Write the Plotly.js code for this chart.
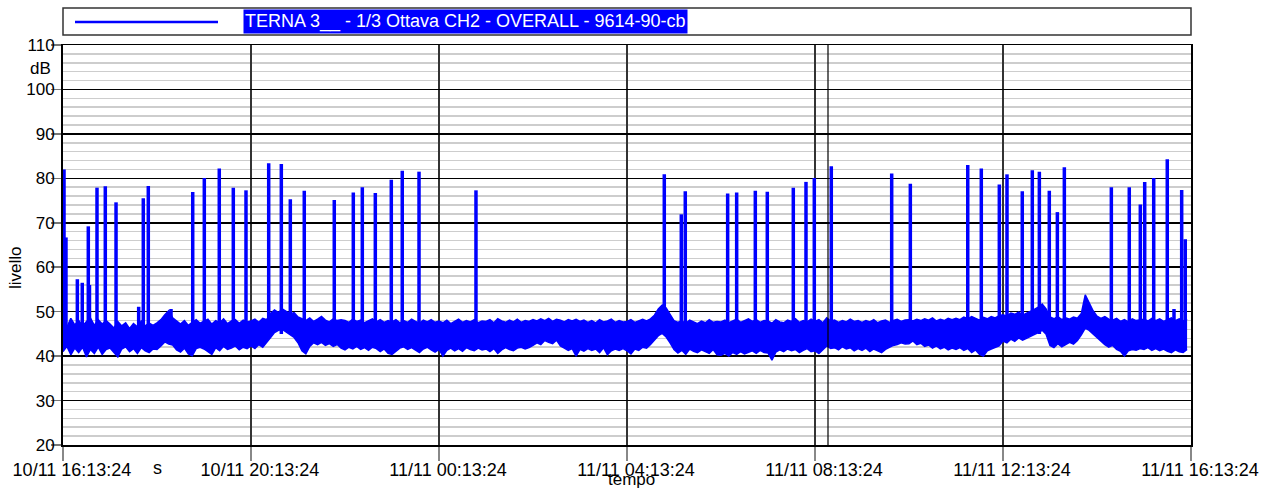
<!DOCTYPE html>
<html>
<head>
<meta charset="utf-8">
<script src="https://cdn.plot.ly/plotly-3.0.1.min.js"></script>
<style>html,body{margin:0;padding:0;background:#fff;}#chart{width:1262px;height:490px;}</style>
</head>
<body>
<div id="chart"></div>
<script>
// ---- data ----
const seriesName = "TERNA 3__ - 1/3 Ottava CH2 - OVERALL - 9614-90-cb";
const stepMinutes = 5; // background envelope sampled every 5 minutes
// upper envelope of the background level (dB), one row per hour
const baseHigh = [
  48, 46.5, 48.5, 47, 48, 46.8, 47.8, 48.6, 46.9, 48.2, 47.2, 48,
  47.2, 46.3, 47.8, 46.8, 47.5, 46.2, 47.3, 46.6, 47.9, 46.8, 47.4, 46.9,
  47.5, 48.2, 49.3, 50.2, 48.6, 47.8, 47.2, 48, 46.9, 47.6, 48.2, 47.4,
  47.8, 48.3, 47.2, 48, 47.5, 48.4, 47.3, 47.9, 48.2, 47.4, 48.1, 47.7,
  47.9, 48.3, 47.6, 48.5, 48.2, 49.6, 50.4, 49.8, 50.6, 50.1, 49.5, 49.8,
  48.8, 48.4, 48, 48.6, 47.8, 48.3, 48.9, 48.1, 47.7, 48.4, 48, 48.2,
  48, 47.6, 48.3, 47.8, 48.1, 47.5, 47.9, 48.4, 47.7, 48.2, 47.6, 48,
  47.7, 48.2, 47.5, 48, 47.6, 48.3, 47.8, 47.4, 48.1, 47.7, 48.2, 47.6,
  47.9, 47.5, 48.1, 47.3, 47.8, 48.3, 47.6, 48, 47.7, 48.2, 47.5, 47.9,
  47.8, 48.2, 47.5, 48.4, 47.9, 47.6, 48.1, 47.7, 48.3, 47.6, 48, 47.8,
  48.2, 47.9, 48.4, 48, 48.5, 47.8, 48.3, 48.1, 47.7, 48.2, 47.9, 48.3,
  47.8, 48.1, 47.6, 48, 47.5, 48.2, 47.7, 47.9, 48.3, 47.6, 48, 47.7,
  47.8, 48.2, 47.6, 48, 48.3, 47.9, 48.4, 49.2, 50.6, 51.5, 50.8, 49.4,
  48, 47.6, 47.9, 47.4, 48.1, 47.7, 47.3, 47.9, 47.5, 48.2, 47.6, 47.8,
  47.7, 48.1, 47.5, 47.9, 48.3, 47.6, 48, 48.4, 47.8, 48.2, 47.6, 48,
  47.9, 47.4, 48.2, 47.7, 47.5, 48.1, 47.8, 48.4, 47.6, 48, 47.7, 48.3,
  47.8, 48.2, 47.5, 48.6, 47.9, 48.1, 47.6, 48, 47.7, 48.3, 47.8, 48,
  47.6, 48, 47.7, 48.2, 47.5, 47.9, 48.1, 47.6, 48, 48.3, 47.8, 48.1,
  48.2, 47.9, 48.3, 48, 48.4, 48.1, 48.6, 47.9, 48.3, 48, 48.5, 48.2,
  48.5, 48.2, 48.8, 48.4, 48.9, 48.5, 48.1, 48.7, 48.4, 48.9, 48.6, 49.1,
  49.3, 49, 49.7, 49.4, 49.9, 49.2, 49.6, 50.1, 50.5, 51, 51.7, 50.6,
  48.8, 48.4, 48.9, 48.2, 48.6, 48.3, 48.8, 48.5, 49.6, 53.8, 52, 50.2,
  49, 48.5, 48.9, 48.3, 48.1, 48.5, 47.8, 48.2, 47.7, 48.4, 48, 48.2,
  48.3, 47.9, 48.5, 48, 48.4, 47.8, 48.2, 48.6, 48, 48.4, 47.9, 48.3
];
// lower envelope of the background level (dB), one row per hour
const baseLow = [
  41, 42.2, 40.3, 41.8, 40.8, 42, 39.8, 41.5, 40.6, 42, 40.4, 41.5,
  41.8, 40.9, 39.8, 41.6, 42.1, 41, 41.7, 40.6, 41.9, 41.2, 40.8, 41.6,
  41.5, 42.3, 43.2, 42.7, 42.5, 41.4, 40.9, 41.8, 40.5, 40.1, 41.7, 42,
  41.6, 41, 40.4, 41.9, 41.2, 42.2, 41.5, 41.8, 42.3, 41.4, 42, 41.7,
  42.3, 41.7, 42.6, 42, 43.2, 44.2, 45.3, 45.8, 46, 45.4, 44.8, 44.2,
  43, 41.2, 40.5, 42.2, 43, 42.6, 43.1, 42.4, 42.8, 42.2, 42.6, 41.8,
  41.4, 42, 41.6, 42.2, 41.5, 41.9, 41.3, 42, 41.7, 41, 41.6, 40.6,
  40.4, 41.2, 41.8, 42.1, 41.5, 41.9, 41.3, 40.8, 41.6, 42, 41.4, 40.9,
  41.5, 40, 41.3, 41.8, 41.2, 41.7, 41.1, 41.9, 41.5, 41.2, 41.8, 41.4,
  41.6, 41, 41.7, 40.6, 41.4, 41.9, 41.5, 41.2, 41.8, 42, 41.6, 41.9,
  42.4, 43, 42.6, 43.5, 43.1, 42.8, 43.6, 42.3, 41.8, 41.3, 41.7, 40,
  41.5, 41.1, 41.7, 41.3, 41.6, 40.8, 41.9, 40.3, 41.2, 41.6, 41.3, 41.7,
  41.2, 40.5, 41.6, 41.3, 42, 41.8, 42.6, 43.5, 44.6, 45.1, 44.3, 43,
  41.5, 40.7, 41.3, 40.4, 41.6, 41.1, 40.8, 41.4, 41, 40.6, 41.5, 40.3,
  40.2, 40.6, 40, 40.8, 40.4, 41, 40.5, 40.9, 41.2, 40.6, 41.3, 40.8,
  40.7, 39.1, 40.9, 41.4, 41, 41.6, 41.2, 41.5, 40.8, 41.3, 41.7, 41,
  41.2, 40.6, 41.5, 42.3, 41.7, 41.9, 41.4, 42.1, 41.6, 41.9, 41.2, 41.7,
  41.3, 41.8, 41, 41.6, 41.2, 40.8, 41.5, 41.9, 42.4, 42.6, 43, 42.7,
  42.8, 43.4, 42.6, 42.9, 42.2, 42.5, 41.8, 42.3, 41.6, 42, 41.4, 41.8,
  41.5, 41.9, 41.3, 41.7, 40.8, 41.4, 40.4, 40, 41.2, 41.6, 41.9, 42.3,
  43.4, 43, 43.8, 43.3, 44.1, 43.6, 44, 44.4, 44.8, 45.3, 45.8, 44.9,
  42.4, 41.9, 42.8, 42.1, 42.6, 43.1, 42.7, 43.5, 44.8, 46.3, 45.8, 45,
  44, 43.4, 42.6, 42, 42.4, 41.5, 41.1, 40, 41.2, 41.5, 41.3, 41.7,
  41.5, 41.9, 41.3, 41.7, 41.2, 41.6, 41.1, 40.8, 41.4, 41, 40.8, 41.5
];
// isolated events: minutes after start and peak level (dB)
const eventMinutes = [
  1.3, 3.8, 18.3, 24.6, 32.3, 33.8, 43.4, 54.0, 67.7, 96.6, 102.5, 108.9, 137.9,
  165.6, 180.4, 199.5, 217.4, 233.6, 262.6, 278.7, 290.2, 308.0, 346.3,
  370.6, 382.1, 398.7, 419.1, 433.1, 454.5, 527.2,
  767.6, 789.3, 794.4, 848.5, 860.0, 883.8, 899.1, 932.3, 948.5, 959.1, 980.8,
  1057.9, 1081.7, 1155.0, 1172.3, 1195.3, 1205.1, 1224.6, 1237.4, 1246.4,
  1259.1, 1269.4, 1278.3, 1338.3, 1361.2, 1375.3, 1380.9, 1392.4, 1409.7,
  1418.3, 1428.1, 1432.7
];
const eventPeaks = [
  82.0, 66.7, 57.3, 56.5, 69.2, 56.0, 77.9, 78.2, 74.6, 51.1, 75.5, 78.3, 50.6,
  76.9, 80.1, 82.2, 77.9, 77.3, 83.4, 83.2, 75.3, 77.2, 75.1,
  76.8, 78.0, 76.7, 79.7, 81.7, 81.5, 77.3,
  80.9, 71.9, 77.1, 76.6, 76.8, 77.2, 77.0, 77.9, 79.2, 80.1, 82.7,
  81.1, 78.8, 83.0, 82.2, 78.6, 80.9, 77.1, 81.8, 81.5,
  77.2, 72.4, 82.5, 78.0, 78.0, 74.1, 79.2, 80.1, 84.3,
  50.6, 77.4, 66.3
];
const eventBase = 45;
const cursorMinutes = 976.6;
const spanHours = 24;
const tickHours = 4;
const yRange = [20, 110];
const yUnit = "dB";
const xUnitLabel = "s";
const xTitle = "tempo";
const yTitle = "livello";

// ---- build ----
const BLUE = "#0000ff";
const t0 = Date.UTC(2011, 10, 10, 16, 13, 24);
const toTime = m => t0 + m * 60000;

const bx = baseHigh.map((_, i) => toTime(i * stepMinutes));
const traceLow = {
  x: bx, y: baseLow, type: "scatter", mode: "lines",
  line: {color: BLUE, width: 1.5}, hoverinfo: "skip", showlegend: false
};
const traceHigh = {
  x: bx, y: baseHigh, type: "scatter", mode: "lines",
  fill: "tonexty", fillcolor: BLUE,
  line: {color: BLUE, width: 1.5}, hoverinfo: "skip", showlegend: false
};
const sx = [], sy = [];
eventMinutes.forEach((m, i) => {
  sx.push(toTime(m), toTime(m), null);
  sy.push(eventBase, eventPeaks[i], null);
});
const traceEvents = {
  x: sx, y: sy, type: "scatter", mode: "lines",
  line: {color: BLUE, width: 3.5}, hoverinfo: "skip", showlegend: false,
  name: seriesName
};

const FONT = "Liberation Sans, Arial, sans-serif";
const L = 63, R = 1191, T = 45, B = 445;
const px2x = p => (p - L) / (R - L);
const px2y = p => (B - p) / (B - T);

const layout = {
  width: 1262, height: 490,
  margin: {l: 63, r: 71, t: 45, b: 45},
  paper_bgcolor: "#fff", plot_bgcolor: "#fff",
  font: {family: FONT, size: 17, color: "#000"},
  showlegend: false,
  xaxis: {
    type: "date",
    range: [t0, t0 + spanHours * 3600000],
    tick0: t0, dtick: tickHours * 3600000,
    tickformat: "%d/%m %H:%M:%S",
    showgrid: true, gridcolor: "#333", gridwidth: 1.5,
    zeroline: false,
    showline: true, linecolor: "#000", linewidth: 1.5, mirror: true,
    ticks: "outside", ticklen: 14, tickcolor: "#888", tickwidth: 1.5,
    ticklabelstandoff: -6, ticklabelshift: 9,
    tickfont: {family: FONT, size: 18, color: "#000"},
    automargin: false, fixedrange: true
  },
  yaxis: {
    range: yRange, dtick: 10, tick0: 0,
    showgrid: true, gridcolor: "#000", gridwidth: 1.5,
    minor: {dtick: 2, showgrid: true, gridcolor: "#cdcdcd", gridwidth: 1.5},
    zeroline: false,
    showline: true, linecolor: "#000", linewidth: 2, mirror: true,
    ticks: "outside", ticklen: 10, tickcolor: "#777", tickwidth: 1.5,
    ticklabelstandoff: -7,
    tickfont: {family: FONT, size: 17, color: "#000"},
    automargin: false, fixedrange: true
  },
  shapes: [
    {type: "line", xref: "x", yref: "paper", x0: toTime(cursorMinutes), x1: toTime(cursorMinutes),
     y0: 0, y1: 1, line: {color: "#000", width: 1.2}},
    {type: "rect", xref: "paper", yref: "paper", x0: 0, x1: 1, y0: px2y(35), y1: px2y(8),
     line: {color: "#333", width: 1.5}, fillcolor: "rgba(0,0,0,0)"},
    {type: "line", xref: "paper", yref: "paper", x0: px2x(75), x1: px2x(218), y0: px2y(22), y1: px2y(22),
     line: {color: BLUE, width: 2.5}}
  ],
  annotations: [
    {xref: "paper", yref: "paper", x: px2x(243), y: px2y(21.5), xanchor: "left", yanchor: "middle",
     text: seriesName, showarrow: false, bgcolor: BLUE, borderpad: 1,
     font: {family: FONT, size: 18, color: "#fff"}},
    {xref: "paper", yref: "paper", x: px2x(53), y: px2y(68), xanchor: "right", yanchor: "middle",
     text: yUnit, showarrow: false, font: {family: FONT, size: 17, color: "#000"}},
    {xref: "paper", yref: "paper", x: px2x(157), y: px2y(468), xanchor: "center", yanchor: "middle",
     text: xUnitLabel, showarrow: false, font: {family: FONT, size: 18, color: "#000"}},
    {xref: "paper", yref: "paper", x: px2x(631), y: px2y(490), xanchor: "center", yanchor: "bottom",
     text: xTitle, showarrow: false, borderpad: 0, font: {family: FONT, size: 17, color: "#000"}},
    {xref: "paper", yref: "paper", x: px2x(15), y: px2y(268), xanchor: "center", yanchor: "middle",
     text: yTitle, textangle: -90, showarrow: false, font: {family: FONT, size: 17, color: "#000"}}
  ]
};

Plotly.newPlot("chart", [traceLow, traceHigh, traceEvents], layout, {displayModeBar: false, staticPlot: true});
</script>
</body>
</html>
